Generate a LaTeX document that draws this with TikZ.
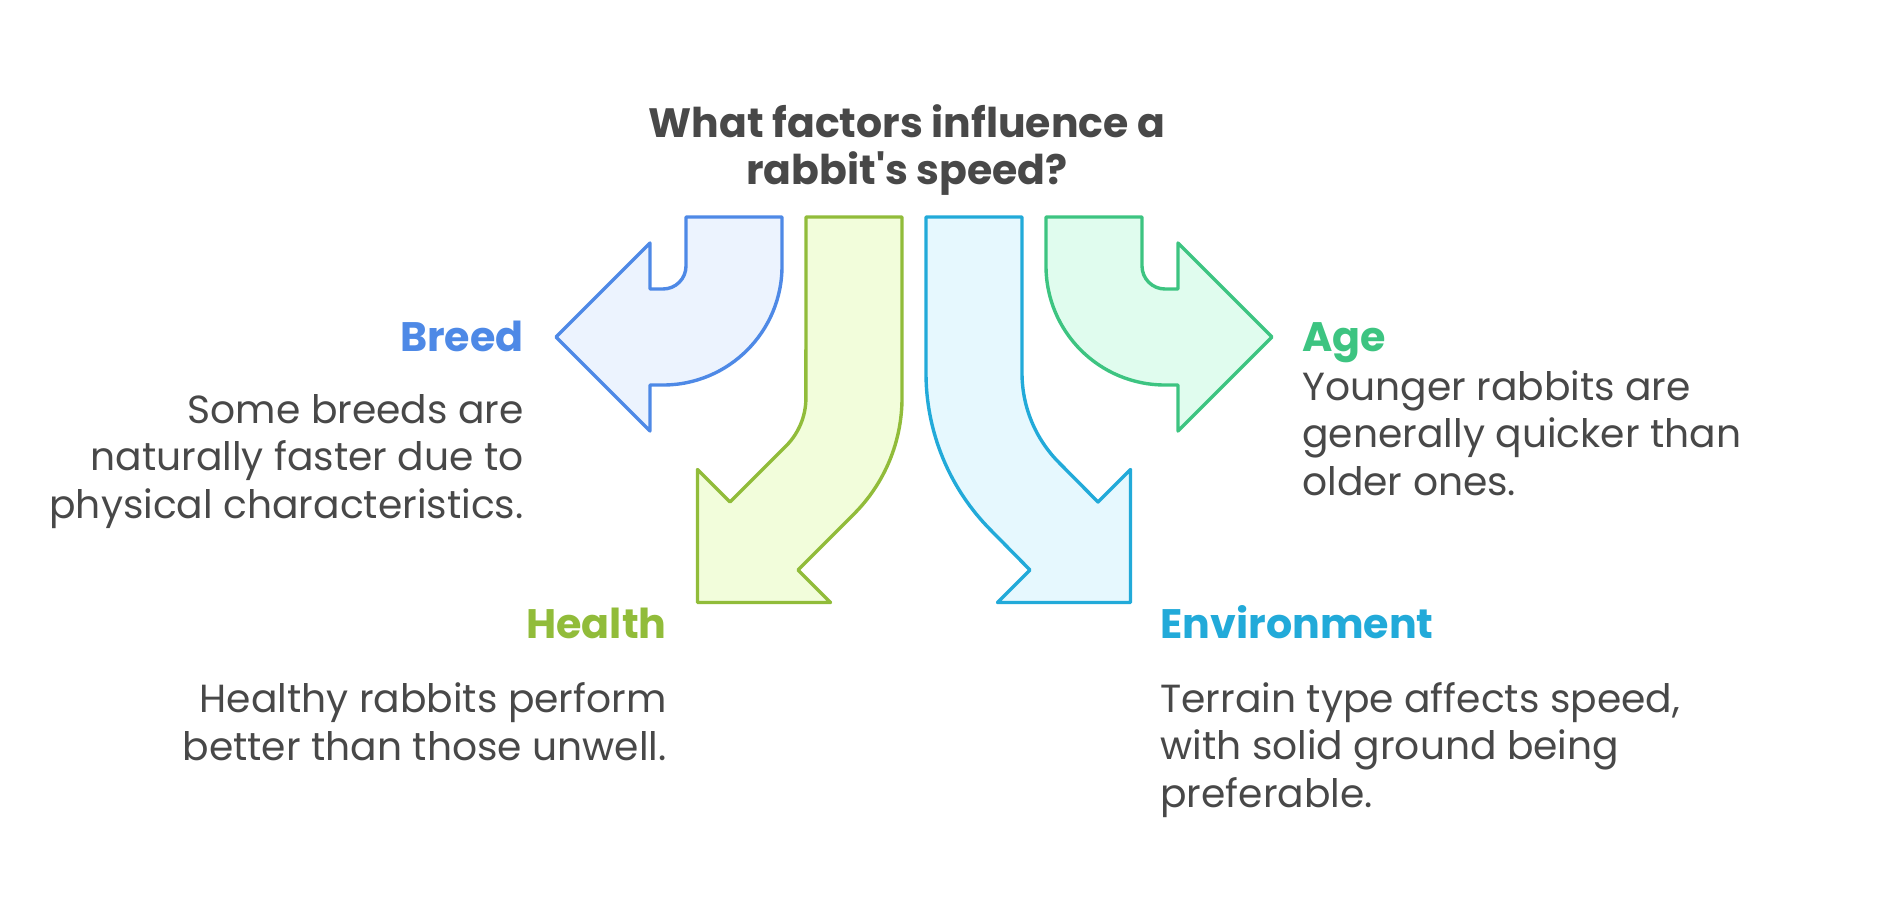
\documentclass[tikz,border=0pt]{standalone}
\usepackage{fontspec}
\setmainfont{Poppins}
\definecolor{TextClr}{RGB}{72,72,72}
\definecolor{BreedClr}{RGB}{78,137,230}
\definecolor{BreedFill}{RGB}{236,243,254}
\definecolor{HealthClr}{RGB}{145,188,58}
\definecolor{HealthFill}{RGB}{242,253,219}
\definecolor{EnvClr}{RGB}{34,170,217}
\definecolor{EnvFill}{RGB}{230,248,254}
\definecolor{AgeClr}{RGB}{61,196,129}
\definecolor{AgeFill}{RGB}{224,252,238}

\begin{document}
\begin{tikzpicture}[x=0.5pt,y=-0.5pt,
  bend arrow/.style={line width=1.7pt,line join=round},
  head text/.style={font=\fontsize{20.6}{25}\selectfont\bfseries,inner sep=0pt},
  body text/.style={font=\fontsize{19.6}{23.75}\selectfont,text=TextClr,inner sep=0pt}]
\useasboundingbox (0,0) rectangle (1900,916);

% title
\node[font=\fontsize{20.5}{23.5}\selectfont\bfseries,text=TextClr,align=center,anchor=base,inner sep=0pt]
  (title) at (907,184) {What factors influence a\\rabbit\textquotesingle s speed?};

% breed arrow, pointing left
\draw[bend arrow,draw=BreedClr,fill=BreedFill]
  (686,217) -- (782,217) -- (782,266) arc[start angle=0,end angle=90,radius=119]
  -- (650,385) -- (650,431) -- (556,337) -- (650,243) -- (650,289) -- (663,289)
  arc[start angle=90,end angle=0,radius=23] -- cycle;

% health arrow, pointing down-left
\draw[bend arrow,draw=HealthClr,fill=HealthFill]
  (806,217) -- (902,217) -- (902,398) arc[start angle=0,end angle=45,radius=164]
  -- (798,570) -- (830.5,602.5) -- (697.5,602.5) -- (697.5,469.5) -- (730,502)
  -- (786,446) arc[start angle=45,end angle=0,radius=68] -- cycle;

% environment arrow, pointing down-right
\draw[bend arrow,draw=EnvClr,fill=EnvFill]
  (926,217) -- (1022,217) -- (1022,373) arc[start angle=180,end angle=135,radius=127]
  -- (1098,502) -- (1130.5,469.5) -- (1130.5,602.5) -- (997.5,602.5) -- (1030,570)
  -- (991.3,530.7) arc[start angle=135,end angle=180,radius=223] -- cycle;

% age arrow, pointing right
\draw[bend arrow,draw=AgeClr,fill=AgeFill]
  (1142,217) -- (1046,217) -- (1046,266) arc[start angle=180,end angle=90,radius=119]
  -- (1178,385) -- (1178,431) -- (1272,337) -- (1178,243) -- (1178,289) -- (1165,289)
  arc[start angle=90,end angle=180,radius=23] -- cycle;

% labels
\node[head text,text=BreedClr,anchor=base east] (breed) at (524,351) {Breed};
\node[body text,align=right,anchor=base east] (breedtxt) at (524,518)
  {Some breeds are\\naturally faster due to\\physical characteristics.};

\node[head text,text=HealthClr,anchor=base east] (health) at (667,638) {Health};
\node[body text,align=right,anchor=base east] (healthtxt) at (667,760)
  {Healthy rabbits perform\\better than those unwell.};

\node[head text,text=AgeClr,anchor=base west] (age) at (1302,351) {Age};
\node[body text,align=left,anchor=base west] (agetxt) at (1302,495)
  {Younger rabbits are\\generally quicker than\\older ones.};

\node[head text,text=EnvClr,anchor=base west] (env) at (1160,638) {Environment};
\node[body text,align=left,anchor=base west] (envtxt) at (1160,807)
  {Terrain type affects speed,\\with solid ground being\\preferable.};
\end{tikzpicture}
\end{document}
